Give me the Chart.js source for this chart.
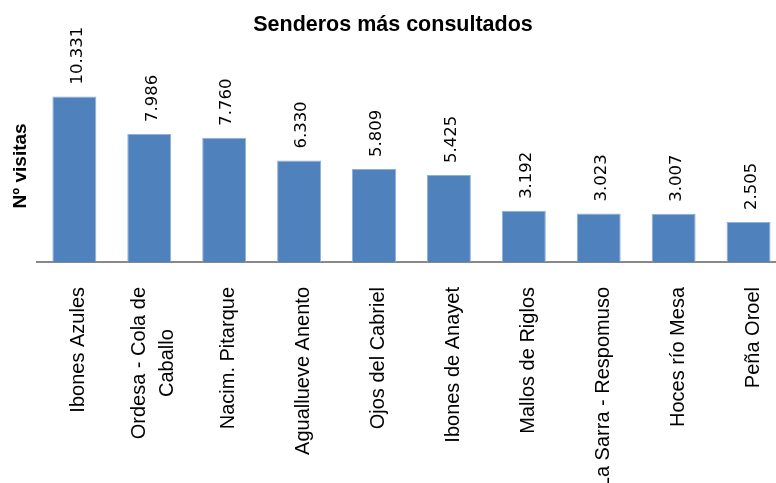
<!DOCTYPE html>
<html>
<head>
<meta charset="utf-8">
<script src="https://cdn.jsdelivr.net/npm/chart.js@4"></script>
<style>
  html, body { margin: 0; padding: 0; background: #fff; overflow: hidden; }
  #wrap { width: 776px; height: 483px; overflow: hidden; }
</style>
</head>
<body>
<div id="wrap"><canvas id="myChart" width="786" height="483"></canvas></div>
<script>
// datos del gráfico
const senderos = ["Ibones Azules", ["Ordesa - Cola de", "Caballo"], "Nacim. Pitarque", "Aguallueve Anento",
    "Ojos del Cabriel", "Ibones de Anayet", "Mallos de Riglos", "La Sarra - Respomuso", "Hoces río Mesa", "Peña Oroel"];
const visitas = [10331, 7986, 7760, 6330, 5809, 5425, 3192, 3023, 3007, 2505];
const titulo = "Senderos más consultados";
const tituloEje = "Nº visitas";

// separador de miles con punto (10.331)
function formato(v) {
    return String(v).replace(/\B(?=(\d{3})+(?!\d))/g, ".");
}

// etiquetas de valor giradas encima de cada barra
const etiquetasValor = {
    id: "etiquetasValor",
    afterDatasetsDraw(chart) {
        const ctx = chart.ctx;
        const meta = chart.getDatasetMeta(0);
        ctx.save();
        ctx.font = "16.5px 'DejaVu Sans'";
        ctx.fillStyle = "#000";
        meta.data.forEach((bar, i) => {
            ctx.save();
            ctx.translate(bar.x, bar.y - 12);
            ctx.rotate(-Math.PI / 2);
            ctx.textAlign = "left";
            ctx.textBaseline = "middle";
            ctx.fillText(formato(visitas[i]), 0, 3);
            ctx.restore();
        });
        ctx.restore();
    }
};

// nombres de los senderos en vertical, centrados por línea
const etiquetasEje = {
    id: "etiquetasEje",
    afterDraw(chart) {
        const ctx = chart.ctx;
        const x = chart.scales.x;
        const base = chart.chartArea.bottom + 25;
        ctx.save();
        ctx.font = "20px 'Liberation Sans'";
        ctx.fillStyle = "#000";
        senderos.forEach((lab, i) => {
            const lineas = Array.isArray(lab) ? lab : [lab];
            const ancho = Math.max(...lineas.map(l => ctx.measureText(l).width));
            const cx = x.getPixelForValue(i);
            ctx.save();
            ctx.translate(cx, base + ancho / 2);
            ctx.rotate(-Math.PI / 2);
            ctx.textAlign = "center";
            ctx.textBaseline = "alphabetic";
            lineas.forEach((l, j) => {
                ctx.fillText(l, 0, 10 + (j - (lineas.length - 1) / 2) * 28);
            });
            ctx.restore();
        });
        ctx.restore();
    }
};

new Chart("myChart", {
    type: "bar",
    data: {
        labels: senderos,
        datasets: [{
            data: visitas,
            backgroundColor: "#4F81BD",
            borderColor: "#8fb0da",
            borderWidth: 1,
            barPercentage: 0.587,
            categoryPercentage: 1
        }]
    },
    options: {
        responsive: false,
        animation: false,
        layout: { padding: { left: 0, right: 0, top: 0, bottom: 221 } },
        plugins: {
            legend: { display: false },
            tooltip: { enabled: false },
            title: {
                display: true,
                text: titulo,
                color: "#000",
                font: { family: "'Liberation Sans'", size: 21.5, weight: "bold", lineHeight: 1.2 },
                padding: { top: 12, bottom: 32 }
            }
        },
        scales: {
            x: {
                ticks: { display: false },
                grid: { display: true, drawOnChartArea: false, drawTicks: false, color: "rgba(0,0,0,0)" },
                border: { display: true, color: "#888888", width: 2 }
            },
            y: {
                min: 0,
                max: 12000,
                ticks: { display: false },
                grid: { display: false },
                border: { display: false },
                title: {
                    display: true,
                    text: tituloEje,
                    color: "#000",
                    font: { family: "'Liberation Sans'", size: 19, weight: "bold", lineHeight: 1.2 },
                    padding: { top: 9.5, bottom: -3.4 }
                }
            }
        }
    },
    plugins: [etiquetasValor, etiquetasEje]
});
</script>
</body>
</html>
